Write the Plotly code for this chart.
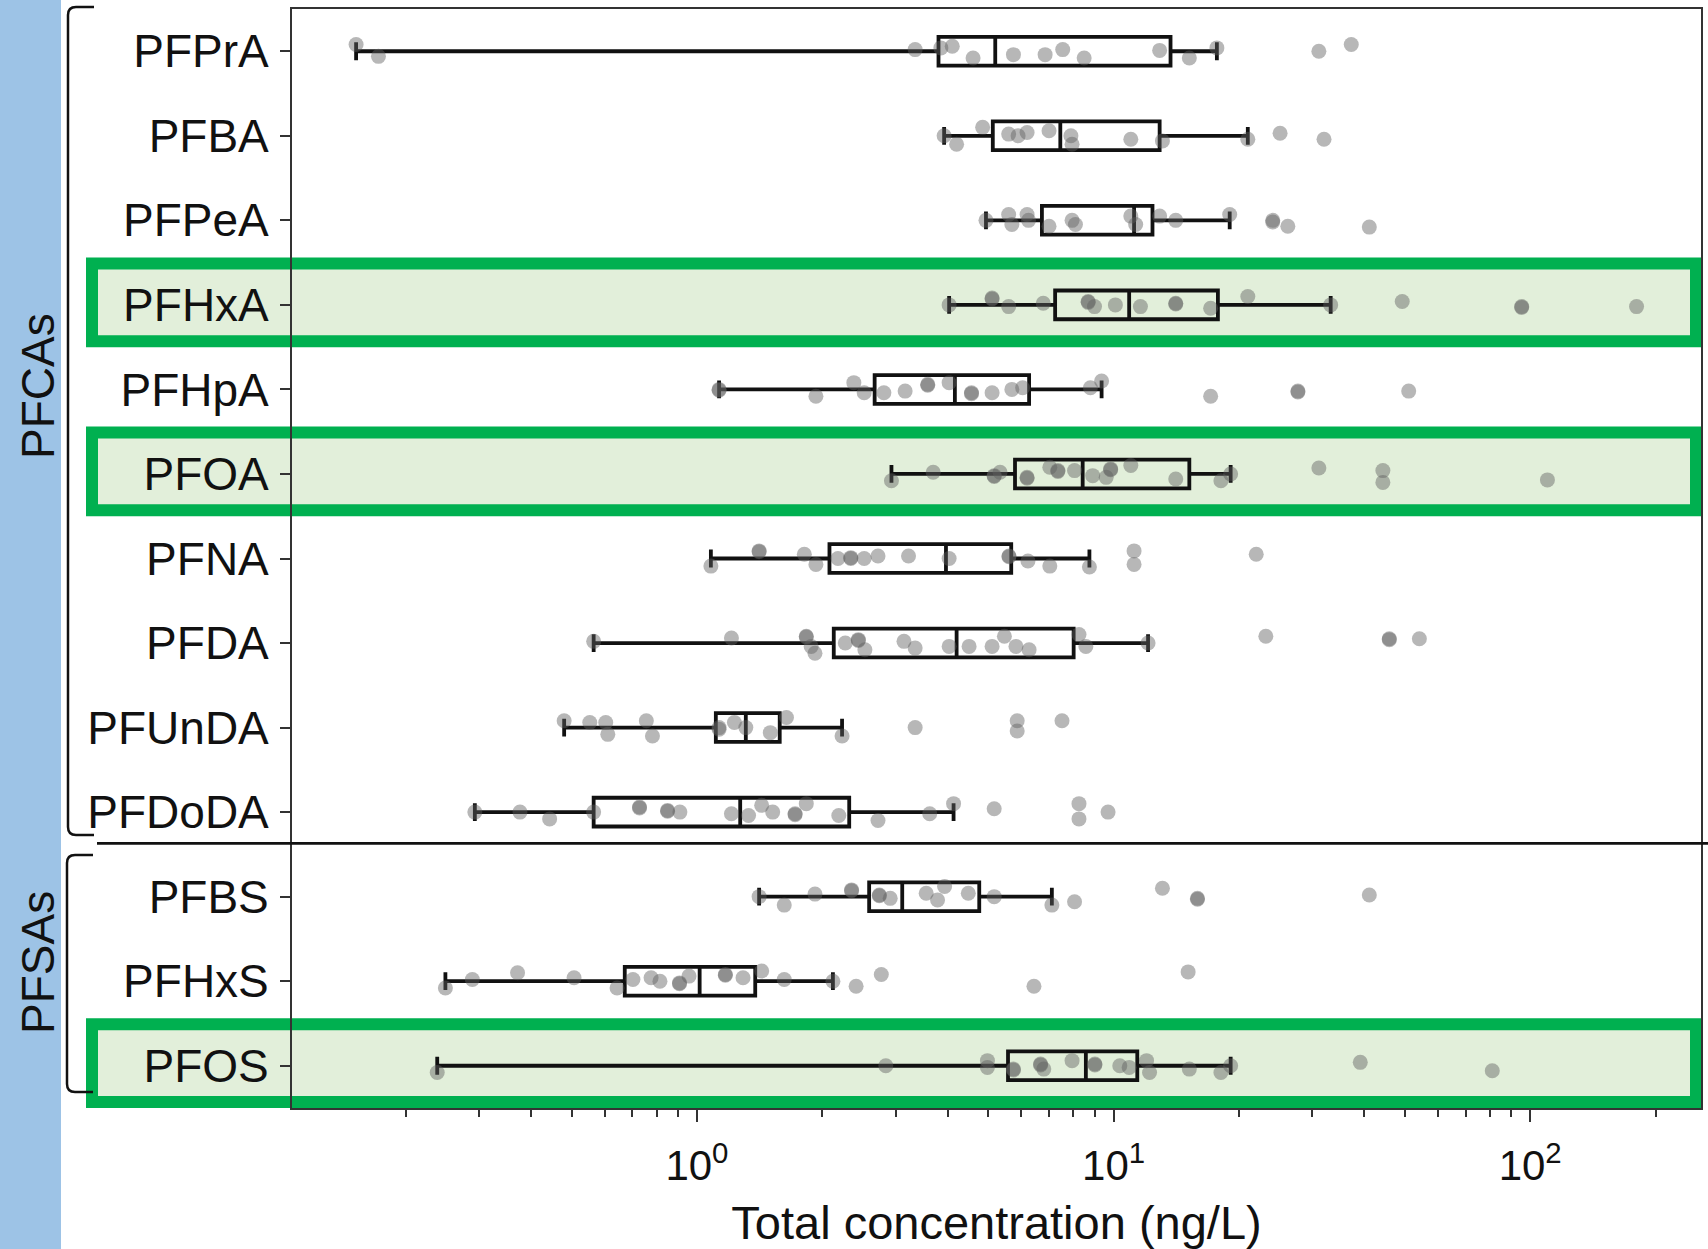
import plotly.graph_objects as go

# ---------------- data ----------------
categories = ["PFPrA", "PFBA", "PFPeA", "PFHxA", "PFHpA", "PFOA", "PFNA",
              "PFDA", "PFUnDA", "PFDoDA", "PFBS", "PFHxS", "PFOS"]
highlighted = ["PFHxA", "PFOA", "PFOS"]

# box statistics (ng/L)
q1_vals = [3.8, 5.13, 6.73, 7.24, 2.67, 5.8, 2.08, 2.13, 1.11, 0.565, 2.59, 0.671, 5.58]
median_vals = [5.2, 7.45, 11.2, 10.9, 4.16, 8.43, 3.96, 4.2, 1.31, 1.27, 3.11, 1.015, 8.58]
q3_vals = [13.7, 12.9, 12.4, 17.8, 6.27, 15.2, 5.68, 8.02, 1.58, 2.32, 4.76, 1.38, 11.4]
lower_whisker = [0.152, 3.92, 4.94, 4.03, 1.13, 2.93, 1.08, 0.565, 0.48, 0.293, 1.41, 0.249, 0.238]
upper_whisker = [17.7, 21.0, 19.0, 33.2, 9.36, 19.1, 8.75, 12.1, 2.23, 4.13, 7.11, 2.12, 19.1]

# individual samples (ng/L) and their vertical jitter (category units, + = down)
PFPrA_pts = [0.152, 0.172, 3.34, 3.85, 4.1, 4.6, 5.75, 6.85, 7.55, 8.5, 12.9, 15.2, 17.7, 31.1, 37.2]
PFPrA_jit = [-0.08, 0.06, -0.02, -0.04, -0.06, 0.08, 0.04, 0.04, -0.02, 0.08, -0.01, 0.08, -0.04, 0.0, -0.08]

PFBA_pts = [3.92, 4.2, 4.85, 5.6, 5.9, 6.2, 7.0, 7.9, 7.95, 11.0, 13.1, 21.0, 25.1, 32.0]
PFBA_jit = [0.0, 0.1, -0.1, -0.02, 0.0, -0.04, -0.06, 0.0, 0.1, 0.04, 0.06, 0.04, -0.03, 0.04]

PFPeA_pts = [4.94, 5.6, 5.7, 6.2, 6.25, 7.0, 7.95, 8.1, 11.0, 11.3, 12.9, 14.1, 19.0, 24.1, 24.1, 26.2, 41.1]
PFPeA_jit = [0.0, -0.07, 0.05, -0.07, 0.0, 0.07, 0.0, 0.05, -0.05, 0.05, -0.05, 0.0, -0.07, 0.0, 0.02, 0.07, 0.08]

PFHxA_pts = [4.03, 5.11, 5.11, 5.6, 6.78, 8.69, 8.69, 9.0, 10.1, 11.6, 14.1, 14.1, 17.1, 21.0, 33.2, 49.3, 95.4, 95.4, 180.0]
PFHxA_jit = [0.0, -0.08, -0.07, 0.02, -0.02, -0.04, -0.03, 0.02, 0.0, 0.02, -0.02, -0.01, 0.04, -0.1, 0.0, -0.04, 0.02, 0.03, 0.02]

PFHpA_pts = [1.13, 1.13, 1.93, 2.38, 2.52, 2.81, 3.16, 3.58, 3.58, 4.03, 4.56, 4.56, 5.11, 5.7, 6.05, 8.8, 9.36, 17.1, 27.7, 27.7, 51.1]
PFHpA_jit = [0.0, 0.01, 0.08, -0.08, 0.04, 0.04, 0.02, -0.06, -0.05, -0.08, 0.04, 0.05, 0.04, 0.0, -0.02, -0.02, -0.1, 0.08, 0.02, 0.03, 0.02]

PFOA_pts = [2.93, 3.69, 5.17, 5.17, 5.34, 6.2, 6.2, 7.03, 7.35, 7.35, 8.06, 8.91, 9.6, 9.84, 9.84, 11.0, 14.1, 18.1, 19.1, 31.1, 44.3, 44.3, 110.0]
PFOA_jit = [0.08, -0.02, 0.02, 0.03, -0.02, 0.04, 0.05, -0.08, -0.04, -0.03, -0.04, 0.02, 0.04, -0.06, -0.05, -0.1, 0.06, 0.08, 0.0, -0.07, -0.04, 0.1, 0.07]

PFNA_pts = [1.08, 1.41, 1.41, 1.81, 1.93, 2.18, 2.34, 2.34, 2.52, 2.72, 3.22, 4.03, 5.61, 5.61, 6.23, 7.03, 8.75, 11.2, 11.2, 22.0]
PFNA_jit = [0.09, -0.09, -0.08, -0.05, 0.07, 0.0, -0.01, 0.0, 0.0, -0.03, -0.03, 0.0, -0.03, -0.02, 0.03, 0.09, 0.1, -0.09, 0.07, -0.05]

PFDA_pts = [0.565, 1.21, 1.83, 1.83, 1.88, 1.92, 2.27, 2.44, 2.44, 2.53, 3.14, 3.34, 4.03, 4.5, 5.11, 5.47, 5.83, 6.27, 8.26, 8.58, 12.1, 23.2, 45.9, 45.9, 54.2]
PFDA_jit = [-0.02, -0.06, -0.08, -0.07, 0.04, 0.12, 0.0, -0.04, -0.03, 0.08, -0.02, 0.06, 0.04, 0.04, 0.04, -0.08, 0.04, 0.08, -0.1, 0.04, 0.0, -0.08, -0.05, -0.04, -0.05]

PFUnDA_pts = [0.48, 0.553, 0.604, 0.611, 0.756, 0.782, 1.13, 1.13, 1.23, 1.31, 1.5, 1.64, 2.23, 3.34, 5.87, 5.87, 7.52]
PFUnDA_jit = [-0.08, -0.06, -0.06, 0.08, -0.08, 0.1, 0.0, 0.02, -0.06, 0.0, 0.06, -0.12, 0.1, 0.0, -0.08, 0.04, -0.08]

PFDoDA_pts = [0.293, 0.376, 0.443, 0.565, 0.728, 0.728, 0.85, 0.85, 0.91, 1.21, 1.33, 1.43, 1.52, 1.72, 1.72, 1.83, 2.19, 2.72, 3.62, 4.13, 5.17, 8.26, 8.26, 9.7]
PFDoDA_jit = [0.0, 0.0, 0.08, 0.0, -0.06, -0.05, -0.02, -0.01, 0.0, 0.02, 0.04, -0.08, 0.0, 0.02, 0.03, -0.1, 0.04, 0.1, 0.02, -0.1, -0.04, -0.1, 0.08, 0.0]

PFBS_pts = [1.41, 1.62, 1.92, 2.35, 2.35, 2.74, 2.74, 2.91, 3.55, 3.78, 3.93, 4.48, 5.17, 7.11, 8.06, 13.1, 15.9, 15.9, 41.1]
PFBS_jit = [0.0, 0.1, -0.03, -0.08, -0.07, -0.02, -0.01, 0.02, -0.04, 0.04, -0.12, -0.04, 0.0, 0.1, 0.06, -0.1, 0.02, 0.03, -0.02]

PFHxS_pts = [0.249, 0.289, 0.371, 0.507, 0.643, 0.702, 0.776, 0.815, 0.908, 0.908, 0.957, 1.17, 1.17, 1.29, 1.43, 1.62, 2.12, 2.41, 2.77, 6.44, 15.1]
PFHxS_jit = [0.08, -0.02, -0.1, -0.04, 0.08, -0.02, -0.04, 0.0, 0.02, 0.03, -0.06, -0.08, -0.07, -0.04, -0.12, -0.02, 0.0, 0.06, -0.08, 0.06, -0.11]

PFOS_pts = [0.238, 2.84, 4.98, 4.98, 5.75, 5.75, 6.68, 6.68, 6.8, 7.95, 9.02, 9.02, 10.35, 10.9, 12.0, 12.2, 15.2, 18.1, 19.1, 39.1, 81.1]
PFOS_jit = [0.08, 0.0, -0.06, 0.02, 0.04, 0.05, -0.02, -0.01, 0.04, -0.06, -0.02, -0.01, 0.0, 0.02, -0.06, 0.08, 0.04, 0.08, 0.0, -0.04, 0.06]

samples = [PFPrA_pts, PFBA_pts, PFPeA_pts, PFHxA_pts, PFHpA_pts, PFOA_pts, PFNA_pts,
           PFDA_pts, PFUnDA_pts, PFDoDA_pts, PFBS_pts, PFHxS_pts, PFOS_pts]
jitters = [PFPrA_jit, PFBA_jit, PFPeA_jit, PFHxA_jit, PFHpA_jit, PFOA_jit, PFNA_jit,
           PFDA_jit, PFUnDA_jit, PFDoDA_jit, PFBS_jit, PFHxS_jit, PFOS_jit]

x_tick_vals = [1, 10, 100]
x_tick_text = ["10<sup>0</sup>", "10<sup>1</sup>", "10<sup>2</sup>"]
x_minor_vals = [0.2, 0.3, 0.4, 0.5, 0.6, 0.7, 0.8, 0.9,
                2, 3, 4, 5, 6, 7, 8, 9,
                20, 30, 40, 50, 60, 70, 80, 90, 200]
group_labels = ["PFCAs", "PFSAs"]
x_title = "Total concentration (ng/L)"

# ---------------- geometry ----------------
FW, FH = 1708, 1249
L, R, T, B = 292, 1701, 9, 1108
W, H = R - L, B - T
FONT = "Liberation Sans, Arial, Helvetica, sans-serif"


def px(x):
    return (x - L) / W


def py(y):
    return (B - y) / H


positions = list(range(len(categories)))

# ---------------- traces ----------------
pt_x, pt_y = [], []
for i, (vals, jit) in enumerate(zip(samples, jitters)):
    for v, j in zip(vals, jit):
        pt_x.append(v)
        pt_y.append(i + j)

fig = go.Figure()
fig.add_trace(go.Scatter(
    x=pt_x, y=pt_y, mode="markers",
    marker=dict(size=15, color="rgba(95,95,95,0.45)", line=dict(width=0)),
    hoverinfo="x", showlegend=False,
))
fig.add_trace(go.Box(
    y=positions, q1=q1_vals, median=median_vals, q3=q3_vals,
    lowerfence=lower_whisker, upperfence=upper_whisker,
    orientation="h", width=0.34, whiskerwidth=0.62,
    line=dict(color="#111111", width=3.8), fillcolor="rgba(0,0,0,0)",
    boxpoints=False, showlegend=False, hoverinfo="skip",
))

# ---------------- shapes ----------------
shapes = []
# blue strip on the left
shapes.append(dict(type="rect", xref="paper", yref="paper",
                   x0=px(-5), x1=px(61), y0=py(FH + 5), y1=py(-5),
                   fillcolor="#9DC3E6", line=dict(width=0), layer="below"))
# green highlight rows
for name in highlighted:
    i = categories.index(name)
    shapes.append(dict(type="rect", xref="paper", yref="y",
                       x0=px(92), x1=px(1696), y0=i - 0.49, y1=i + 0.43,
                       fillcolor="#E2EFDA", line=dict(color="#00B050", width=12),
                       layer="below"))


def bracket(xv, xe, y0, y1, r=8):
    return ("M {a},{b} L {c},{b} Q {d},{b} {d},{e} L {d},{f} Q {d},{g} {c},{g} L {a},{g}"
            .format(a=px(xe), b=py(y0), c=px(xv + r), d=px(xv), e=py(y0 + r),
                    f=py(y1 - r), g=py(y1)))


shapes.append(dict(type="path", xref="paper", yref="paper",
                   path=bracket(68, 94, 7, 835), line=dict(color="#111111", width=2.5)))
shapes.append(dict(type="path", xref="paper", yref="paper",
                   path=bracket(67, 93, 855, 1092), line=dict(color="#111111", width=2.5)))
# separator between the two groups
shapes.append(dict(type="line", xref="paper", yref="y",
                   x0=px(97), x1=px(FW + 2), y0=9.37, y1=9.37,
                   line=dict(color="#111111", width=2.6)))

annotations = [
    dict(text=group_labels[0], xref="paper", yref="paper", x=px(38), y=py(386),
         textangle=-90, showarrow=False, xanchor="center", yanchor="middle",
         font=dict(family=FONT, size=46, color="#111111")),
    dict(text=group_labels[1], xref="paper", yref="paper", x=px(38), y=py(963),
         textangle=-90, showarrow=False, xanchor="center", yanchor="middle",
         font=dict(family=FONT, size=46, color="#111111")),
]

fig.update_layout(
    width=FW, height=FH,
    margin=dict(l=L, r=FW - R, t=T, b=FH - B, autoexpand=False),
    paper_bgcolor="white", plot_bgcolor="white",
    font=dict(family=FONT, color="#111111"),
    shapes=shapes, annotations=annotations,
    showlegend=False,
)

fig.update_xaxes(
    type="log", range=[-0.972, 2.41],
    tickmode="array", tickvals=x_tick_vals, ticktext=x_tick_text,
    ticks="outside", ticklen=12, tickwidth=2, tickcolor="#333333",
    ticklabelstandoff=8,
    minor=dict(tickmode="array", tickvals=x_minor_vals, ticks="outside",
               ticklen=7, tickwidth=1.5, tickcolor="#333333", showgrid=False),
    showgrid=False, zeroline=False,
    showline=True, mirror=True, linecolor="#333333", linewidth=2,
    tickfont=dict(family=FONT, size=42, color="#111111"),
    title=dict(text=x_title, font=dict(family=FONT, size=47, color="#111111"), standoff=18),
    automargin=False,
)
fig.update_yaxes(
    tickmode="array", tickvals=positions, ticktext=categories,
    range=[len(categories) - 0.5, -0.5],
    ticks="outside", ticklen=10, tickwidth=2, tickcolor="#333333",
    ticklabelstandoff=2,
    showgrid=False, zeroline=False,
    showline=True, mirror=True, linecolor="#333333", linewidth=2,
    tickfont=dict(family=FONT, size=46, color="#111111"),
    automargin=False,
)

fig.write_html(
    "out.html",
    config={"displayModeBar": False},
    post_script="document.body.style.margin='0';document.body.style.padding='0';"
                "document.body.style.overflow='hidden';",
)
